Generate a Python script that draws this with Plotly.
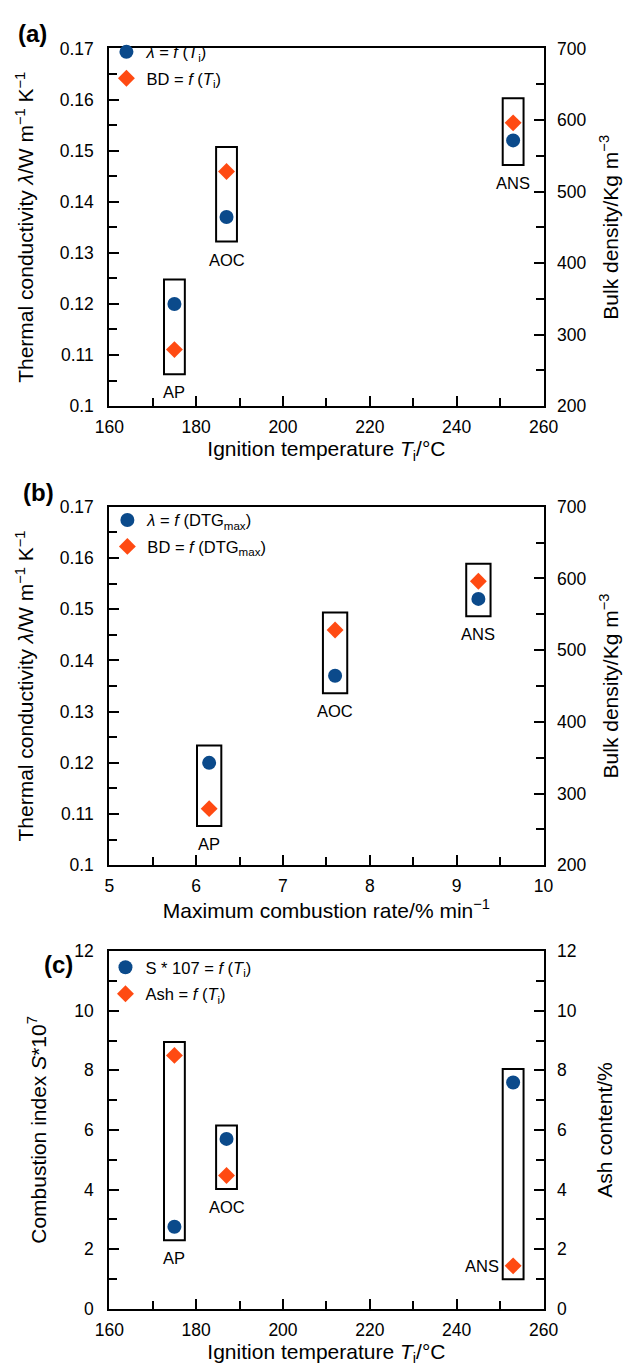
import plotly.graph_objects as go
from plotly.subplots import make_subplots

# ---------------- data ----------------
samples = ["AP", "AOC", "ANS"]
ignition_T = [175, 187, 253]          # °C
dtg_max = [6.15, 7.6, 9.25]           # % min-1
conductivity = [0.120, 0.137, 0.152]  # W m-1 K-1
bulk_density = [279, 528, 596]        # kg m-3
combustion_S = [2.75, 5.70, 7.59]     # S*10^7
ash_content = [8.5, 4.47, 1.44]       # %

BLUE = "#0b4a8b"
ORANGE = "#ff4a12"
FONT = "Liberation Sans, Arial, Helvetica, sans-serif"

W, H = 629, 1372
X0, X1 = 99, 555
panels_px = [(39, 402), (504, 868), (955, 1318)]

fig = make_subplots(rows=3, cols=1, specs=[[{"secondary_y": True}]] * 3)

def ydom(top, bot):
    return [1 - bot / H, 1 - top / H]

xdom = [X0 / W, X1 / W]

lam_rng = [0.1, 0.17]
bd_rng = [200, 700]
c_rng = [0, 12]

def bd_to_lam(v):
    return lam_rng[0] + (v - bd_rng[0]) / (bd_rng[1] - bd_rng[0]) * (lam_rng[1] - lam_rng[0])

legend_text = [
    ("<i>λ</i> = <i>f</i> (<i>T</i><sub>i</sub>)", "BD = <i>f</i> (<i>T</i><sub>i</sub>)"),
    ("<i>λ</i> = <i>f</i> (DTG<sub>max</sub>)", "BD = <i>f</i> (DTG<sub>max</sub>)"),
    ("S * 107 = <i>f</i> (<i>T</i><sub>i</sub>)", "Ash = <i>f</i> (<i>T</i><sub>i</sub>)"),
]
legend_names = ["legend", "legend2", "legend3"]

xs = [ignition_T, dtg_max, ignition_T]
left_vals = [conductivity, conductivity, combustion_S]
right_vals = [bulk_density, bulk_density, ash_content]

for i in range(3):
    r = i + 1
    fig.add_trace(go.Scatter(x=xs[i], y=left_vals[i], mode="markers",
                             marker=dict(symbol="circle", size=14, color=BLUE),
                             name=legend_text[i][0], legend=legend_names[i],
                             legendgroup=f"a{i}"),
                  row=r, col=1, secondary_y=False)
    fig.add_trace(go.Scatter(x=xs[i], y=right_vals[i], mode="markers",
                             marker=dict(symbol="diamond", size=13, color=ORANGE),
                             name=legend_text[i][1], legend=legend_names[i],
                             legendgroup=f"b{i}"),
                  row=r, col=1, secondary_y=True)

TICK = 17.5
axis_common = dict(showline=True, linecolor="black", linewidth=2, ticks="inside",
                   tickcolor="black", tickwidth=2, ticklen=10, showgrid=False,
                   zeroline=False, tickfont=dict(family=FONT, size=TICK, color="black"))
title_font = dict(family=FONT, size=21, color="black")
minor_t = dict(ticks="inside", ticklen=8, tickwidth=2, tickcolor="black")

xaxes_cfg = [
    dict(range=[160, 260], dtick=20, tick0=160, minor=dict(dtick=10, **minor_t),
         title=dict(text="Ignition temperature <i>T</i><sub>i</sub>/°C", font=title_font, standoff=3)),
    dict(range=[5, 10], dtick=1, tick0=5, minor=dict(dtick=0.5, **minor_t),
         title=dict(text="Maximum combustion rate/% min<sup>−1</sup>", font=title_font, standoff=4)),
    dict(range=[160, 260], dtick=20, tick0=160, minor=dict(dtick=10, **minor_t),
         title=dict(text="Ignition temperature <i>T</i><sub>i</sub>/°C", font=title_font, standoff=4)),
]
ylcfg = [
    dict(range=lam_rng, dtick=0.01, tick0=0.1, minor=dict(dtick=0.005, **minor_t),
         title=dict(text="Thermal conductivity <i>λ</i>/W m<sup>−1</sup> K<sup>−1</sup>", font=title_font, standoff=20)),
    dict(range=lam_rng, dtick=0.01, tick0=0.1, minor=dict(dtick=0.005, **minor_t),
         title=dict(text="Thermal conductivity <i>λ</i>/W m<sup>−1</sup> K<sup>−1</sup>", font=title_font, standoff=20)),
    dict(range=c_rng, dtick=2, tick0=0, minor=dict(dtick=1, **minor_t),
         title=dict(text="Combustion index <i>S</i>*10<sup>7</sup>", font=title_font, standoff=22)),
]
yrcfg = [
    dict(range=bd_rng, dtick=100, tick0=200, minor=dict(dtick=50, **minor_t),
         title=dict(text="Bulk density/Kg m<sup>−3</sup>", font=title_font, standoff=18)),
    dict(range=bd_rng, dtick=100, tick0=200, minor=dict(dtick=50, **minor_t),
         title=dict(text="Bulk density/Kg m<sup>−3</sup>", font=title_font, standoff=18)),
    dict(range=c_rng, dtick=2, tick0=0, minor=dict(dtick=1, **minor_t),
         title=dict(text="Ash content/%", font=title_font, standoff=22)),
]

layout_upd = {}
for i in range(3):
    xk = "xaxis" if i == 0 else f"xaxis{i+1}"
    ylk = "yaxis" if i == 0 else f"yaxis{2*i+1}"
    yrk = f"yaxis{2*i+2}"
    top, bot = panels_px[i]
    layout_upd[xk] = dict(domain=xdom, mirror=True, ticklabelstandoff=4, **axis_common, **xaxes_cfg[i])
    layout_upd[ylk] = dict(domain=ydom(top, bot), mirror=True, ticklabelstandoff=10, **axis_common, **ylcfg[i])
    layout_upd[yrk] = dict(domain=ydom(top, bot), ticklabelstandoff=8, **axis_common, **yrcfg[i])
fig.update_layout(**layout_upd)

# ---------------- boxes and sample labels ----------------
box_halfw = [2.4, 0.14, 2.4]
box_pad = [0.0048, 0.0034, 0.45]
LBL = 16.5
shapes, annots = [], []
for i in range(3):
    xref = "x" if i == 0 else f"x{i+1}"
    yref = "y" if i == 0 else f"y{2*i+1}"
    for j, s in enumerate(samples):
        a = left_vals[i][j]
        b = bd_to_lam(right_vals[i][j]) if i < 2 else right_vals[i][j]
        lo, hi = min(a, b) - box_pad[i], max(a, b) + box_pad[i]
        xc = xs[i][j]
        shapes.append(dict(type="rect", xref=xref, yref=yref,
                           x0=xc - box_halfw[i], x1=xc + box_halfw[i], y0=lo, y1=hi,
                           line=dict(color="black", width=2), fillcolor="rgba(0,0,0,0)",
                           layer="below"))
        if i == 2 and s == "ANS":
            annots.append(dict(x=xc - box_halfw[i], y=b, xref=xref, yref=yref,
                               text=s, showarrow=False, xanchor="right", yanchor="middle",
                               xshift=-2, font=dict(family=FONT, size=LBL, color="black")))
        else:
            annots.append(dict(x=xc, y=lo, xref=xref, yref=yref, text=s, showarrow=False,
                               xanchor="center", yanchor="top", yshift=-7,
                               font=dict(family=FONT, size=LBL, color="black")))

panel_labels = [("(a)", 24, 1), ("(b)", 490, 6), ("(c)", 969, 28)]
for txt, yc, xl in panel_labels:
    annots.append(dict(x=xl / W, y=1 - yc / H, xref="paper", yref="paper", text=f"<b>{txt}</b>",
                       showarrow=False, xanchor="left", yanchor="middle",
                       font=dict(family=FONT, size=24, color="black")))

legend_pos = [(96, 25), (97, 500), (95, 954)]
leg = {}
for i, (lx, ly) in enumerate(legend_pos):
    leg[legend_names[i]] = dict(x=lx / W, y=1 - ly / H, xanchor="left", yanchor="top",
                                bgcolor="rgba(0,0,0,0)", borderwidth=0, tracegroupgap=2,
                                font=dict(family=FONT, size=16.5, color="black"))

fig.update_layout(
    width=W, height=H, margin=dict(l=0, r=0, t=0, b=0),
    paper_bgcolor="white", plot_bgcolor="white",
    shapes=shapes, annotations=annots, showlegend=True,
    font=dict(family=FONT, color="black"),
    **leg,
)

fig.write_html("out.html")
